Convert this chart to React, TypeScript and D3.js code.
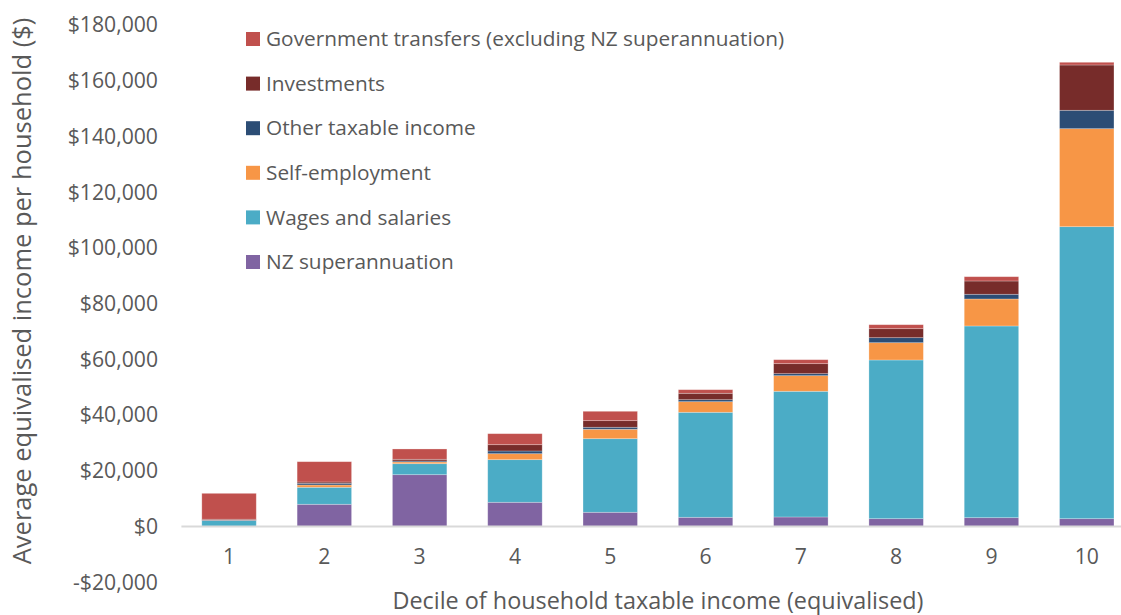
import React from "react";
import * as d3 from "d3";

const deciles = ["1", "2", "3", "4", "5", "6", "7", "8", "9", "10"];
const nzSuper = [0, 7970, 18590, 8690, 5100, 3300, 3410, 2800, 3160, 2800];
const wages = [2100, 6100, 3950, 15290, 26410, 37690, 45120, 56960, 68810, 104810];
const selfEmployment = [0, 830, 610, 2150, 3380, 3810, 5600, 6210, 9690, 35180];
const otherTaxable = [150, 600, 360, 970, 720, 710, 720, 1800, 1690, 6600];
const investments = [350, 470, 610, 2260, 2370, 2300, 3590, 3230, 4770, 16260];
const govtTransfers = [9300, 7290, 3700, 3950, 3370, 1290, 1430, 1430, 1540, 970];
const yTicks = [-20000, 0, 20000, 40000, 60000, 80000, 100000, 120000, 140000, 160000, 180000];

const seriesDefs = [
  { key: "super", name: "NZ superannuation", color: "#8064A2", values: nzSuper },
  { key: "wages", name: "Wages and salaries", color: "#4BACC6", values: wages },
  { key: "self", name: "Self-employment", color: "#F79646", values: selfEmployment },
  { key: "other", name: "Other taxable income", color: "#2C4D75", values: otherTaxable },
  { key: "invest", name: "Investments", color: "#772C2A", values: investments },
  { key: "govt", name: "Government transfers (excluding NZ superannuation)", color: "#C0504D", values: govtTransfers },
];

const W = 1121;
const H = 615;
const FONT = "'Open Sans', sans-serif";
const TXT = "#595959";

export default function App() {
  const x = d3
    .scaleBand<string>()
    .domain(deciles)
    .range([181.4, 1134.4])
    .paddingInner(0.4286)
    .paddingOuter(0.2143);
  const y = d3.scaleLinear().domain([-20000, 180000]).range([582.2, 25]);

  const table = deciles.map((d, i) => {
    const row: any = { decile: d };
    seriesDefs.forEach((s) => (row[s.key] = s.values[i]));
    return row;
  });
  const stacked = d3.stack<any>().keys(seriesDefs.map((s) => s.key))(table);
  const fmt = (v: number) => (v < 0 ? "-$" : "$") + d3.format(",")(Math.abs(v));
  const legendOrder = [...seriesDefs].reverse();

  return (
    <svg width={W} height={H} style={{ position: "absolute", left: 0, top: 0 }} fontFamily={FONT}>
      <rect width={W} height={H} fill="#fff" />
      {stacked.map((layer, li) => (
        <g key={layer.key} fill={seriesDefs[li].color}>
          {layer.map((seg, i) => (
            <rect
              key={i}
              x={x(deciles[i])}
              width={x.bandwidth()}
              y={y(seg[1])}
              height={Math.max(0, y(seg[0]) - y(seg[1]))}
              stroke="#ffffff"
              strokeOpacity={0.35}
              strokeWidth={0.75}
            />
          ))}
        </g>
      ))}
      <line x1={181.4} x2={W} y1={y(0)} y2={y(0)} stroke="#d9d9d9" strokeWidth={2} />
      {yTicks.map((t) => (
        <text key={t} x={158} y={y(t)} dy="0.35em" textAnchor="end" fontSize={21.2} fill={TXT}>
          {fmt(t)}
        </text>
      ))}
      {deciles.map((d) => (
        <text key={d} x={(x(d) as number) + x.bandwidth() / 2} y={557} dy="0.35em" textAnchor="middle" fontSize={21.2} fill={TXT}>
          {d}
        </text>
      ))}
      <text x={658} y={609} textAnchor="middle" fontSize={23.4} fill={TXT}>
        Decile of household taxable income (equivalised)
      </text>
      <text transform={`translate(22,${291}) rotate(-90)`} dy="0.35em" textAnchor="middle" fontSize={25.5} fill={TXT}>
        Average equivalised income per household ($)
      </text>
      {legendOrder.map((s, i) => (
        <g key={s.key} transform={`translate(246,${39 + i * 44.6})`}>
          <rect x={0} y={-7} width={14} height={14} fill={s.color} />
          <text x={20} y={0} dy="0.35em" fontSize={20.8} fill={TXT}>
            {s.name}
          </text>
        </g>
      ))}
    </svg>
  );
}
